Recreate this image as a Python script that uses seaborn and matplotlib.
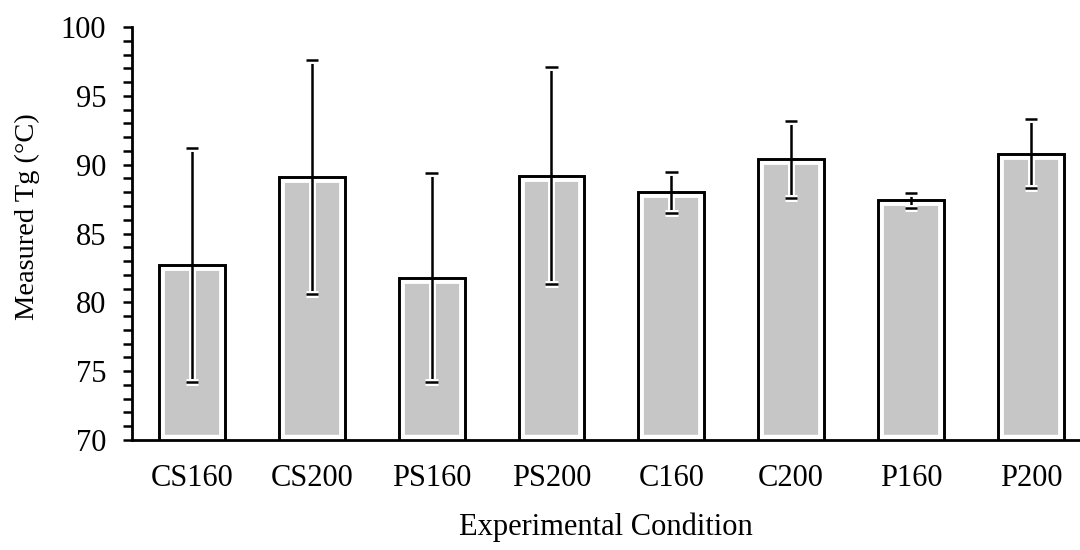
import matplotlib
matplotlib.use("Agg")
import matplotlib.pyplot as plt
import matplotlib.patheffects as pe
from matplotlib.ticker import MultipleLocator
import numpy as np
import pandas as pd
import seaborn as sns

# ---- data ----
conditions = ["CS160", "CS200", "PS160", "PS200", "C160", "C200", "P160", "P200"]
mean_tg = [82.7, 89.1, 81.8, 89.2, 88.0, 90.4, 87.4, 90.8]
err_tg = [8.5, 8.5, 7.6, 7.9, 1.5, 2.8, 0.55, 2.5]
y_ticks = [70, 75, 80, 85, 90, 95, 100]

df = pd.DataFrame({"Condition": conditions, "Tg": mean_tg, "err": err_tg})

sns.set_theme(style="ticks")
plt.rcParams["font.family"] = ["Liberation Serif", "DejaVu Serif"]
plt.rcParams["text.color"] = "black"
plt.rcParams["axes.labelcolor"] = "black"
plt.rcParams["xtick.color"] = "black"
plt.rcParams["ytick.color"] = "black"

fig = plt.figure(figsize=(10.8, 5.5), dpi=100)
ax = fig.add_axes([132 / 1080, 110 / 550, 1 - 132 / 1080, 413 / 550])

# inner gray fill with white margin
sns.barplot(data=df, x="Condition", y="Tg", order=conditions, color="#c6c6c6",
            saturation=1, width=0.55, edgecolor="white", linewidth=8.5,
            errorbar=None, ax=ax, zorder=1)
# white gap along the baseline
ax.axhline(y_ticks[0], color="white", lw=7.5, zorder=1.5)

# error bars with white halo
eb = ax.errorbar(x=np.arange(len(conditions)), y=df["Tg"], yerr=df["err"],
                 fmt="none", ecolor="black", elinewidth=1.8, capsize=4.5,
                 capthick=1.8, zorder=2)
for artist in list(eb.lines[1]) + list(eb.lines[2]):
    artist.set_path_effects([pe.Stroke(linewidth=5, foreground="white"), pe.Normal()])

# outer black outline
sns.barplot(data=df, x="Condition", y="Tg", order=conditions, fill=False,
            width=0.55, edgecolor="black", linewidth=2.1,
            errorbar=None, ax=ax, zorder=3)
for p in ax.patches[len(conditions):]:
    p.set_facecolor("none")
    p.set_edgecolor("black")
    p.set_linewidth(2.1)
    p.set_zorder(3)

ax.set_ylim(y_ticks[0], y_ticks[-1])
ax.set_xlim(-0.5, 7.41)
ax.set_yticks(y_ticks)
ax.yaxis.set_minor_locator(MultipleLocator(1))
ax.tick_params(axis="y", which="both", direction="out", length=6.5, width=1.8,
               labelsize=22, pad=12)
ax.tick_params(axis="x", length=0, labelsize=22, pad=17)

sns.despine(ax=ax, top=True, right=True)
for s in ["left", "bottom"]:
    ax.spines[s].set_linewidth(2)
    ax.spines[s].set_color("black")
    ax.spines[s].set_zorder(5)

ax.set_xlabel("Experimental Condition", fontsize=22, labelpad=14)
ax.set_ylabel("Measured Tg (°C)", fontsize=20.5)
ax.yaxis.set_label_coords(-0.097, 0.54)

fig.savefig("out.png", dpi=100, facecolor="white")
